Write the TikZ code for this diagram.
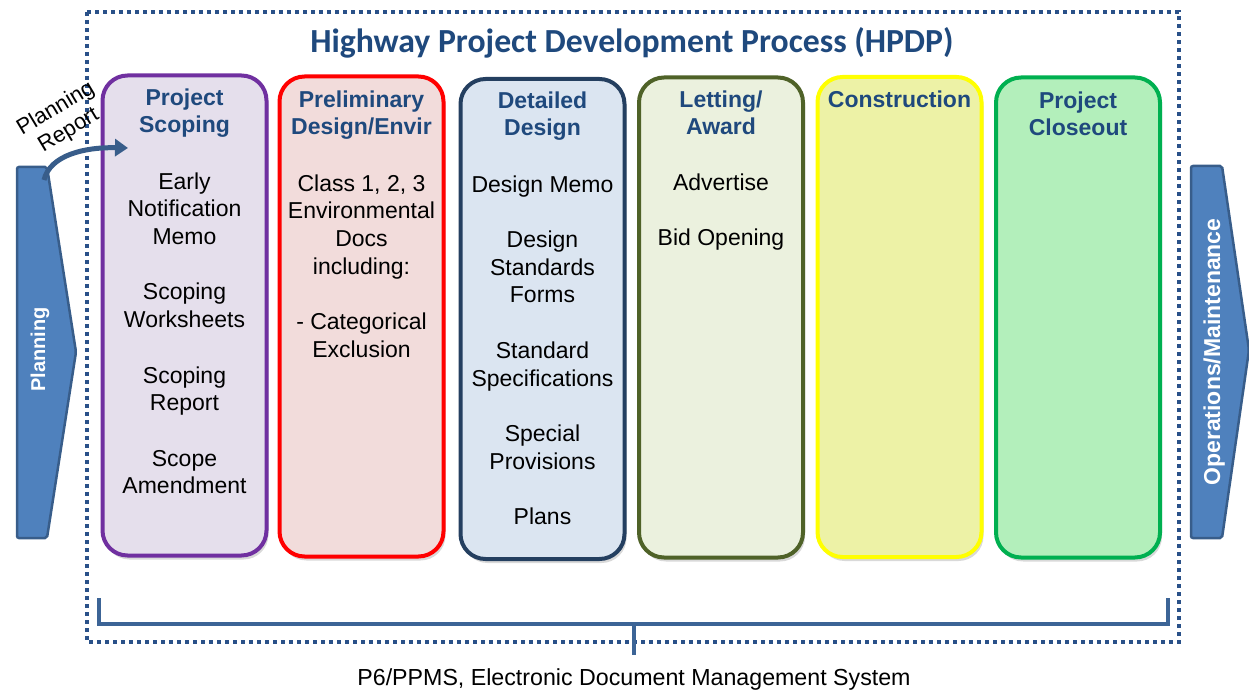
\documentclass[tikz,border=0pt]{standalone}
\usepackage{fontspec}
\setmainfont{Liberation Sans}
\newfontfamily\titlefont{Carlito}
\usetikzlibrary{shadows,arrows.meta}
\definecolor{hdr}{HTML}{1F497D}
\definecolor{frame}{HTML}{2A5189}
\definecolor{brk}{HTML}{3C6496}
\definecolor{arrfill}{HTML}{4F81BD}
\definecolor{arrdraw}{HTML}{385D8A}
\definecolor{bA}{HTML}{7030A0}\definecolor{fA}{HTML}{E5DFEC}
\definecolor{bB}{HTML}{FF0000}\definecolor{fB}{HTML}{F2DCDB}
\definecolor{bC}{HTML}{243F60}\definecolor{fC}{HTML}{DBE5F1}
\definecolor{bD}{HTML}{4F6228}\definecolor{fD}{HTML}{EBF1DE}
\definecolor{bE}{HTML}{FFFF00}\definecolor{fE}{HTML}{EDF2A6}
\definecolor{bF}{HTML}{00B050}\definecolor{fF}{HTML}{B3EFBB}
\begin{document}
\begin{tikzpicture}[x=1pt,y=1pt,
  colbox/.style={rounded corners=25pt, line width=4pt, minimum width=164pt, minimum height=480pt, inner sep=0pt,
    drop shadow={opacity=0.3, shadow xshift=2pt, shadow yshift=-4pt}},
  hdrtext/.style={font=\fontsize{23}{27.7}\selectfont\bfseries, text=hdr, align=center, anchor=north, inner sep=0pt},
  bodytext/.style={font=\fontsize{23}{27.7}\selectfont, align=center, anchor=north, inner sep=0pt},
  bigarrow/.style={fill=arrfill, draw=arrdraw, line width=2.5pt, rounded corners=2pt},
  arrtext/.style={text=white, font=\bfseries, rotate=90, anchor=base, inner sep=0pt},
  brkline/.style={draw=brk, line width=4pt},
  prtext/.style={rotate=31, font=\fontsize{22}{26}\selectfont, inner sep=0pt},
]
\useasboundingbox (0,0) rectangle (1249,691);

% dotted frame
\draw[frame, line width=3.5pt, dash pattern=on 4pt off 4pt] (87,679) rectangle (1179,49);

% title
\node[anchor=base, text=hdr, font=\titlefont\fontsize{33.7}{38}\selectfont\bfseries, inner sep=0pt] (title) at (632,638) {Highway Project Development Process (HPDP)};

% columns
\node[colbox, draw=bA, fill=fA] (c1) at (184.5,375.5) {};
\node[colbox, draw=bB, fill=fB] (c2) at (361.5,374.5) {};
\node[colbox, draw=bC, fill=fC] (c3) at (542.5,372) {};
\node[colbox, draw=bD, fill=fD] (c4) at (721,373.5) {};
\node[colbox, draw=bE, fill=fE] (c5) at (899.5,374) {};
\node[colbox, draw=bF, fill=fF] (c6) at (1078,373.5) {};

% headers
\node[hdrtext] (h1) at (184.5,605.4) {\strut Project\\Scoping};
\node[hdrtext] (h2) at (361.5,603.4) {\strut Preliminary\\Design/Envir};
\node[hdrtext] (h3) at (542.5,602.4) {\strut Detailed\\Design};
\node[hdrtext] (h4) at (721,603.4) {\strut Letting/\\Award};
\node[hdrtext] (h5) at (899.5,603.4) {\strut Construction};
\node[hdrtext] (h6) at (1078,602.4) {\strut Project\\Closeout};

% bodies
\node[bodytext] (t1) at (184.5,521.4) {\strut Early\\Notification\\Memo\\[27.7pt]Scoping\\Worksheets\\[27.7pt]Scoping\\Report\\[27.7pt]Scope\\Amendment};
\node[bodytext] (t2) at (361.5,519.4) {\strut Class 1, 2, 3\\Environmental\\Docs\\including:\\[27.7pt]- Categorical\\Exclusion};
\node[bodytext] (t3) at (542.5,518.4) {\strut Design Memo\\[27.7pt]Design\\Standards\\Forms\\[27.7pt]Standard\\Specifications\\[27.7pt]Special\\Provisions\\[27.7pt]Plans};
\node[bodytext] (t4) at (721,520.4) {\strut Advertise\\[27.7pt]Bid Opening};

% Planning arrow
\coordinate (pa1) at (17,524);
\coordinate (pa2) at (47,524);
\coordinate (pa3) at (76,339);
\coordinate (pa4) at (47,153);
\coordinate (pa5) at (17,153);
\draw[bigarrow] (pa1) -- (pa2) -- (pa3) -- (pa4) -- (pa5) -- cycle;
\node[arrtext, font=\fontsize{20}{24}\selectfont\bfseries] (plan) at (45,341.5) {Planning};

% Operations arrow
\coordinate (oa1) at (1191,525);
\coordinate (oa2) at (1222,525);
\coordinate (oa3) at (1249,341);
\coordinate (oa4) at (1222,153);
\coordinate (oa5) at (1191,153);
\draw[bigarrow] (oa1) -- (oa2) -- (oa3) -- (oa4) -- (oa5) -- cycle;
\node[arrtext, font=\fontsize{23}{27}\selectfont\bfseries] (ops) at (1220,339) {Operations/Maintenance};

% Planning report arrow
\coordinate (prs) at (44,511);
\coordinate (pre) at (128,543);
\draw[arrdraw, line width=5pt, -{Triangle[length=13pt,width=17pt]}] (prs) .. controls (50,536) and (85,544) .. (pre);
\node[prtext] (prl1) at (56,582) {Planning};
\node[prtext] (prl2) at (69,560) {Report};

% bracket
\coordinate (b1) at (99,93);
\coordinate (b2) at (99,67);
\coordinate (b3) at (1168,67);
\coordinate (b4) at (1168,93);
\coordinate (bm) at (634,67);
\coordinate (bt) at (634,36);
\draw[brkline] (b1) -- (b2) -- (b3) -- (b4);
\draw[brkline] (bm) -- (bt);

% footer
\node[anchor=base, font=\fontsize{23.2}{27}\selectfont, inner sep=0pt] (foot) at (634,6) {P6/PPMS, Electronic Document Management System};
\end{tikzpicture}
\end{document}
